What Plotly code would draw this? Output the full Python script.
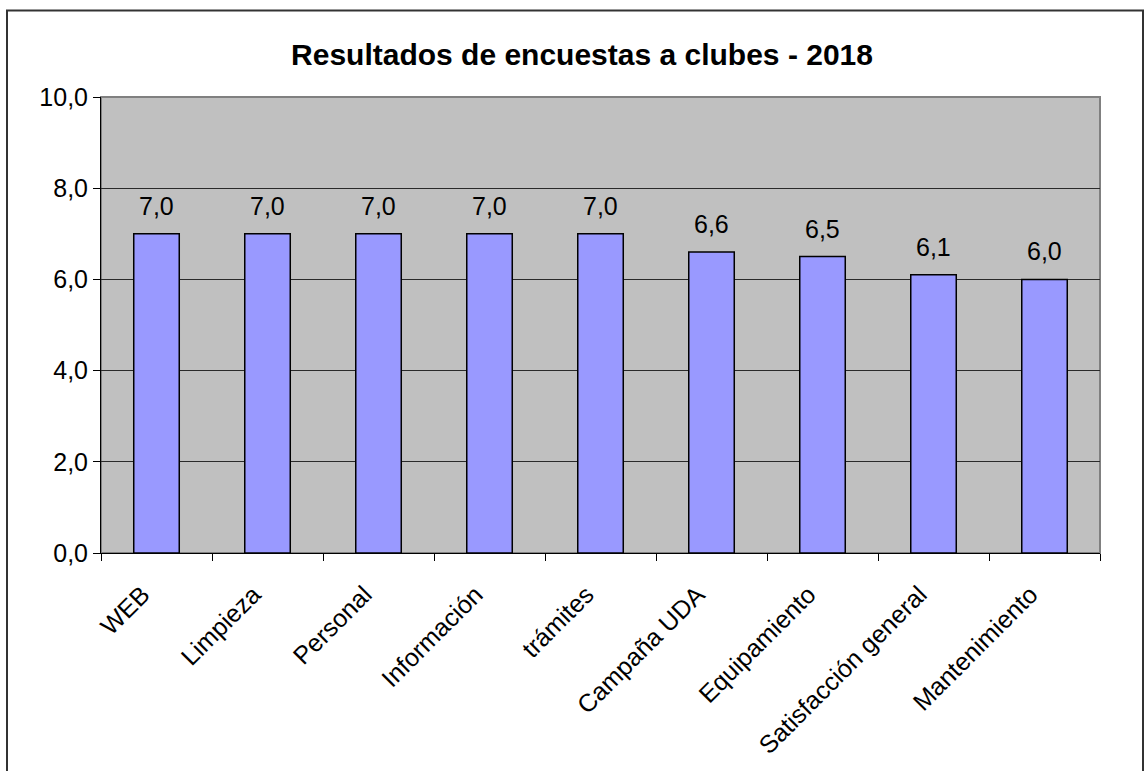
import plotly.graph_objects as go

categorias = ["WEB", "Limpieza", "Personal", "Información", "trámites",
              "Campaña UDA", "Equipamiento", "Satisfacción general", "Mantenimiento"]
valores = [7.0, 7.0, 7.0, 7.0, 7.0, 6.6, 6.5, 6.1, 6.0]
ticks_y = [0, 2, 4, 6, 8, 10]

FONT = "Liberation Sans, Arial, sans-serif"

fig = go.Figure(go.Bar(
    x=categorias,
    y=valores,
    marker=dict(color="#9999FF", line=dict(color="#000000", width=1.5)),
    hoverinfo="x+y",
))

# value labels above each bar, taken from the same values
for cat, val in zip(categorias, valores):
    fig.add_annotation(
        x=cat, y=val, text=f"{val:.1f}".replace(".", ","),
        showarrow=False, yanchor="bottom", yshift=12,
        font=dict(family=FONT, size=25, color="#000000"),
    )

L, R, T, B = 101, 44, 97, 216
W, H = 1144, 771
pw, ph = W - L - R, H - T - B

fig.update_layout(
    width=W, height=H,
    margin=dict(l=L, r=R, t=T, b=B),
    paper_bgcolor="#FFFFFF",
    plot_bgcolor="#C0C0C0",
    separators=",.",
    bargap=0.59,
    showlegend=False,
    title=dict(text="<b>Resultados de encuestas a clubes - 2018</b>",
               xref="container", x=582 / W, xanchor="center",
               y=1 - 54 / H, yanchor="middle",
               font=dict(family=FONT, size=30, color="#000000")),
    font=dict(family=FONT, color="#000000"),
    xaxis=dict(
        tickangle=-45, tickson="boundaries", ticks="outside", ticklen=7,
        tickcolor="#000000", showline=True, linecolor="#000000", linewidth=1,
        showgrid=False, tickfont=dict(family=FONT, size=25, color="#000000"),
        ticklabelstandoff=16, ticklabelshift=-14,
    ),
    yaxis=dict(
        range=[0, 10], tickvals=ticks_y, tickformat=".1f",
        ticks="outside", ticklen=7, tickcolor="#000000",
        showline=True, linecolor="#000000", linewidth=1,
        showgrid=True, gridcolor="#2a2a2a", gridwidth=1, zeroline=False,
        tickfont=dict(family=FONT, size=25, color="#000000"),
    ),
    shapes=[
        # gray frame on the top and right of the plotting area
        dict(type="rect", xref="paper", yref="paper", x0=0, x1=1, y0=0, y1=1,
             line=dict(color="#808080", width=2), layer="below"),
        # outer frame around the whole chart
        dict(type="rect", xref="paper", yref="paper",
             x0=(7 - L) / pw, x1=(1143 - L) / pw,
             y0=-(H - (H - B)) / ph - 0.2, y1=(H - B - 10) / ph,
             line=dict(color="#333333", width=2)),
    ],
)

fig.write_html("out.html")
